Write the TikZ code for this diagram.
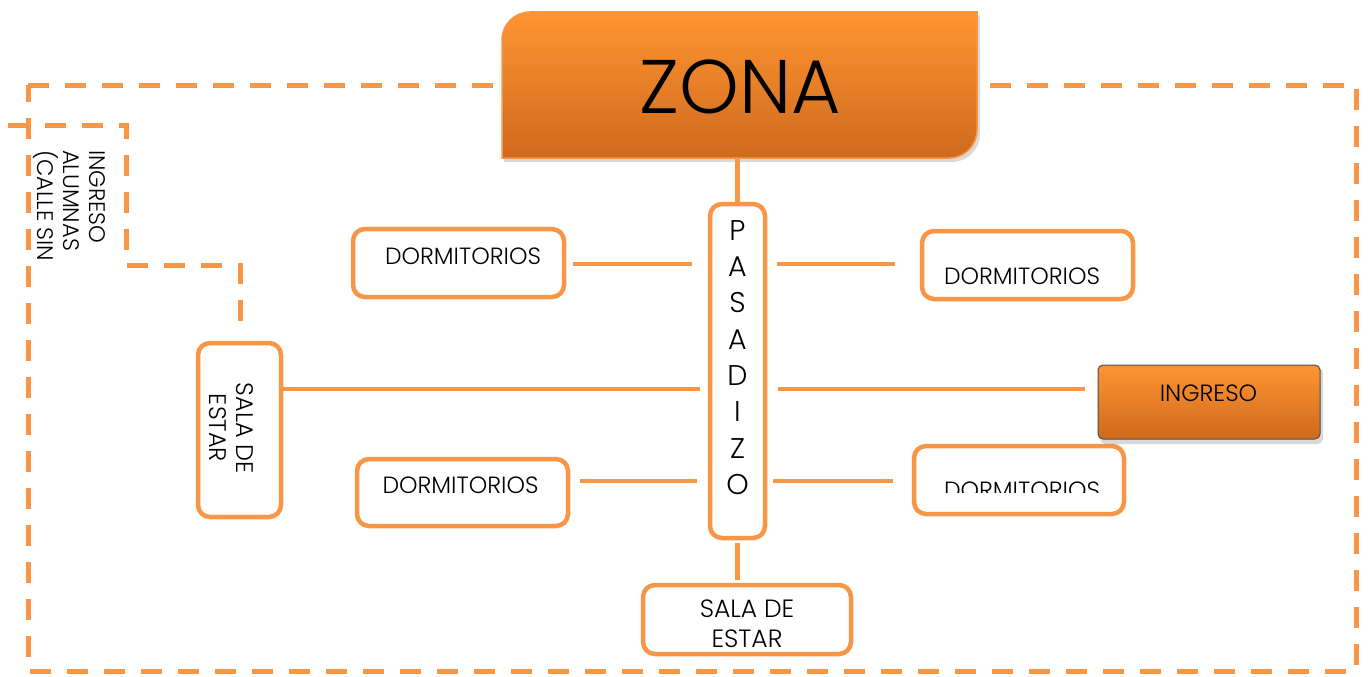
\documentclass[tikz,border=0pt]{standalone}
\usepackage{fontspec}
\setmainfont{Poppins Light}
\usetikzlibrary{calc}
\definecolor{orl}{HTML}{F79646}
\definecolor{ztop}{HTML}{FE9431}
\definecolor{zbot}{HTML}{CF6A1E}
\begin{document}
\begin{tikzpicture}[x=1pt,y=-1pt,
  box/.style={draw=orl, line width=4.5pt, rounded corners=12pt, fill=white, outer sep=0pt, inner sep=0pt},
  conn/.style={draw=orl, line width=4.5pt},
  zonedash/.style={draw=orl, line width=5pt, dash pattern=on 21pt off 16pt},
  txt/.style={inner sep=0pt, outer sep=0pt, font=\fontsize{23.5}{27}\selectfont},
  orfill/.style={top color=ztop, bottom color=zbot}]
\useasboundingbox (0,0) rectangle (1368,677);
% dashed zone outlines
\draw[zonedash] (28,85) -- (1356,85) -- (1356,671) -- (28,671) -- cycle;
\draw[zonedash] (8,125) -- (126,125) -- (126,265) -- (240,265) -- (240,325);
% ZONA header
\fill[black, opacity=0.15] (504,162) -- (504,44) .. controls (504,28.5) and (516.5,16) .. (532,16) -- (980,16) -- (980,134) .. controls (980,149.5) and (967.5,162) .. (952,162) -- cycle;
\path[orfill, draw=orl, line width=1.5pt]
  (502,158) -- (502,40) .. controls (502,24.5) and (514.5,12) .. (530,12) -- (977,12) -- (977,130) .. controls (977,145.5) and (964.5,158) .. (949,158) -- cycle;
\node[inner sep=0pt, font=\fontsize{76}{80}\selectfont] (zona) at (740,86.5) {ZONA};
\coordinate (zonabot) at (739.5,158);
% boxes
\node[box, minimum width=55pt, minimum height=334pt] (pas) at (737.5,371) {};
\node[txt, align=center, font=\fontsize{28.5}{36.3}\selectfont] (pastxt) at (737.5,357.5) {P\\A\\S\\A\\D\\I\\Z\\O};
\node[box, minimum width=211pt, minimum height=68pt] (dl1) at (458.5,263) {};
\node[box, minimum width=211pt, minimum height=68pt] (dr1) at (1027.5,265) {};
\node[box, minimum width=211pt, minimum height=67pt] (dl2) at (462.5,492.5) {};
\node[box, minimum width=210pt, minimum height=68pt] (dr2) at (1019,480) {};
\node[box, minimum width=83pt, minimum height=174pt] (sl) at (239.5,430) {};
\node[box, minimum width=208pt, minimum height=69pt] (sb) at (747,619.5) {};
\fill[black, opacity=0.15, rounded corners=5pt] (1100,368) rectangle (1323,444);
\node[orfill, draw=black!70, line width=1pt, rounded corners=5pt, minimum width=222pt, minimum height=74pt] (ing) at (1209,402) {};
% texts
\node[txt] (tdl1) at (463,256.5) {DORMITORIOS};
\node[txt] (tdr1) at (1022,276.5) {DORMITORIOS};
\node[txt] (tdl2) at (460.5,485) {DORMITORIOS};
\begin{scope}
\clip (900,440) rectangle (1140,492);
\node[txt] (tdr2) at (1022,490.5) {DORMITORIOS};
\end{scope}
\node[txt] (ting) at (1208.5,393) {INGRESO};
\node[txt, align=center, font=\fontsize{25}{30}\selectfont] (tsb) at (747,624) {SALA DE\\ESTAR};
\node[txt, align=center, rotate=-90, font=\fontsize{24}{27}\selectfont] (tsl) at (231,428) {SALA DE\\ESTAR};
\node[txt, align=left, rotate=-90, anchor=north west, font=\fontsize{22.5}{26}\selectfont] (tin) at (105,150) {INGRESO\\ALUMNAS\\(CALLE SIN};
% rows
\coordinate (row1) at (0,264);
\coordinate (row2) at (0,389);
\coordinate (row3) at (0,481);
% connectors
\draw[conn] (pas.north |- zonabot) -- (pas.north);
\draw[conn, shorten <=5pt, shorten >=5pt] (pas.south) -- (pas.south |- sb.north);
\draw[conn, shorten <=9pt, shorten >=18pt] (dl1.east |- row1) -- (pas.west |- row1);
\draw[conn, shorten <=12pt, shorten >=27pt] (pas.east |- row1) -- (dr1.west |- row1);
\draw[conn, shorten <=2pt, shorten >=10pt] (sl.east |- row2) -- (pas.west |- row2);
\draw[conn, shorten <=13pt, shorten >=13pt] (pas.east |- row2) -- (ing.west |- row2);
\draw[conn, shorten <=12pt, shorten >=13pt] (dl2.east |- row3) -- (pas.west |- row3);
\draw[conn, shorten <=8pt, shorten >=21pt] (pas.east |- row3) -- (dr2.west |- row3);
\end{tikzpicture}
\end{document}
